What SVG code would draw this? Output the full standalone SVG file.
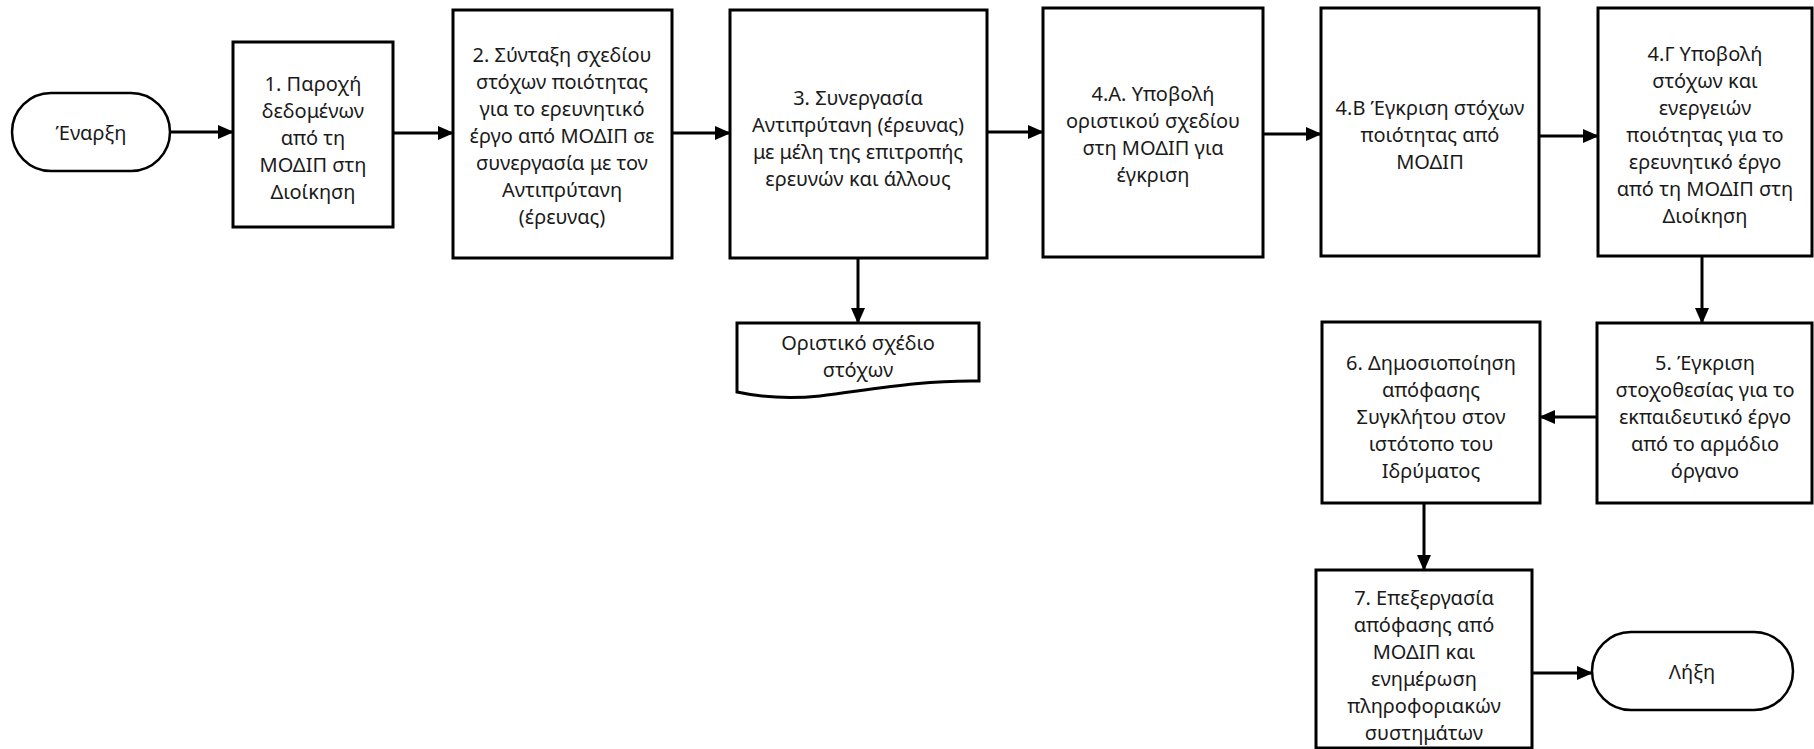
<svg xmlns="http://www.w3.org/2000/svg" width="1814" height="749" viewBox="0 0 1814 749">
  <style>
    .box { fill: #ffffff; stroke: #000000; stroke-width: 3; }
    .term { fill: #ffffff; stroke: #000000; stroke-width: 2.5; }
    .edge { fill: none; stroke: #000000; stroke-width: 3; marker-end: url(#arrow); }
    text { font-family: "Noto Sans", "Open Sans", "DejaVu Sans", sans-serif; font-size: 20px; fill: #1a1a1a; text-anchor: middle; dominant-baseline: central; }
  </style>
  <defs>
    <marker id="arrow" markerUnits="userSpaceOnUse" markerWidth="16" markerHeight="16" viewBox="0 0 16 14" refX="15" refY="7" orient="auto">
      <path d="M0,0 L16,7 L0,14 Z" fill="#000000"/>
    </marker>
  </defs>
  <rect width="1814" height="749" fill="#ffffff"/>

  <g id="connectors">
    <line class="edge" x1="170" y1="132" x2="233" y2="132"/>
    <line class="edge" x1="393" y1="133" x2="453" y2="133"/>
    <line class="edge" x1="672" y1="133" x2="730" y2="133"/>
    <line class="edge" x1="858" y1="258" x2="858" y2="323"/>
    <line class="edge" x1="987" y1="132" x2="1043" y2="132"/>
    <line class="edge" x1="1263" y1="134" x2="1321" y2="134"/>
    <line class="edge" x1="1539" y1="136" x2="1598" y2="136"/>
    <line class="edge" x1="1702" y1="256" x2="1702" y2="323"/>
    <line class="edge" x1="1597" y1="417" x2="1540" y2="417"/>
    <line class="edge" x1="1424" y1="503" x2="1424" y2="570"/>
    <line class="edge" x1="1532" y1="673" x2="1592" y2="673"/>
  </g>

  <g id="start">
    <rect class="term" x="12" y="93" width="158" height="78" rx="39" ry="39"/>
    <text x="91" y="132">Έναρξη</text>
  </g>

  <g id="step1">
    <rect class="box" x="233" y="42" width="160" height="185"/>
    <text x="313" y="83">1. Παροχή</text>
    <text x="313" y="110">δεδομένων</text>
    <text x="313" y="137">από τη</text>
    <text x="313" y="164">ΜΟΔΙΠ στη</text>
    <text x="313" y="191">Διοίκηση</text>
  </g>

  <g id="step2">
    <rect class="box" x="453" y="10" width="219" height="248"/>
    <text x="562" y="54">2. Σύνταξη σχεδίου</text>
    <text x="562" y="81">στόχων ποιότητας</text>
    <text x="562" y="108">για το ερευνητικό</text>
    <text x="562" y="135">έργο από ΜΟΔΙΠ σε</text>
    <text x="562" y="162">συνεργασία με τον</text>
    <text x="562" y="189">Αντιπρύτανη</text>
    <text x="562" y="216">(έρευνας)</text>
  </g>

  <g id="step3">
    <rect class="box" x="730" y="10" width="257" height="248"/>
    <text x="858" y="97">3. Συνεργασία</text>
    <text x="858" y="124">Αντιπρύτανη (έρευνας)</text>
    <text x="858" y="151">με μέλη της επιτροπής</text>
    <text x="858" y="178">ερευνών και άλλους</text>
  </g>

  <g id="draft-doc">
    <path class="box" d="M737,323 H979 V381 C920,380 870,390 820,396 C790,399 760,397 737,392 Z"/>
    <text x="858" y="342">Οριστικό σχέδιο</text>
    <text x="858" y="369">στόχων</text>
  </g>

  <g id="step4a">
    <rect class="box" x="1043" y="8" width="220" height="249"/>
    <text x="1153" y="93">4.Α. Υποβολή</text>
    <text x="1153" y="120">οριστικού σχεδίου</text>
    <text x="1153" y="147">στη ΜΟΔΙΠ για</text>
    <text x="1153" y="174">έγκριση</text>
  </g>

  <g id="step4b">
    <rect class="box" x="1321" y="8" width="218" height="248"/>
    <text x="1430" y="107">4.Β Έγκριση στόχων</text>
    <text x="1430" y="134">ποιότητας από</text>
    <text x="1430" y="161">ΜΟΔΙΠ</text>
  </g>

  <g id="step4c">
    <rect class="box" x="1598" y="8" width="214" height="248"/>
    <text x="1705" y="53">4.Γ Υποβολή</text>
    <text x="1705" y="80">στόχων και</text>
    <text x="1705" y="107">ενεργειών</text>
    <text x="1705" y="134">ποιότητας για το</text>
    <text x="1705" y="161">ερευνητικό έργο</text>
    <text x="1705" y="188">από τη ΜΟΔΙΠ στη</text>
    <text x="1705" y="215">Διοίκηση</text>
  </g>

  <g id="step5">
    <rect class="box" x="1597" y="323" width="215" height="180"/>
    <text x="1705" y="362">5. Έγκριση</text>
    <text x="1705" y="389">στοχοθεσίας για το</text>
    <text x="1705" y="416">εκπαιδευτικό έργο</text>
    <text x="1705" y="443">από το αρμόδιο</text>
    <text x="1705" y="470">όργανο</text>
  </g>

  <g id="step6">
    <rect class="box" x="1322" y="322" width="218" height="181"/>
    <text x="1431" y="362">6. Δημοσιοποίηση</text>
    <text x="1431" y="389">απόφασης</text>
    <text x="1431" y="416">Συγκλήτου στον</text>
    <text x="1431" y="443">ιστότοπο του</text>
    <text x="1431" y="470">Ιδρύματος</text>
  </g>

  <g id="step7">
    <rect class="box" x="1316" y="570" width="216" height="178"/>
    <text x="1424" y="597">7. Επεξεργασία</text>
    <text x="1424" y="624">απόφασης από</text>
    <text x="1424" y="651">ΜΟΔΙΠ και</text>
    <text x="1424" y="678">ενημέρωση</text>
    <text x="1424" y="705">πληροφοριακών</text>
    <text x="1424" y="732">συστημάτων</text>
  </g>

  <g id="end">
    <rect class="term" x="1592" y="632" width="201" height="78" rx="39" ry="39"/>
    <text x="1692" y="671">Λήξη</text>
  </g>
</svg>
